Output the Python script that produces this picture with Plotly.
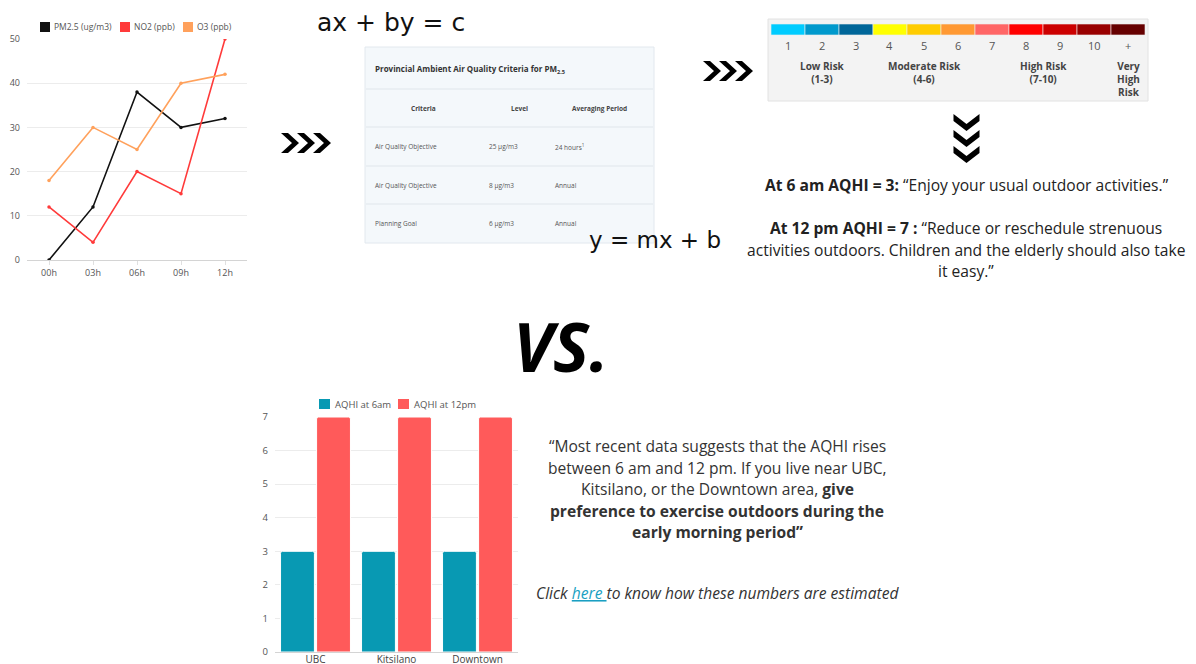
import plotly.graph_objects as go

W, H = 1196, 664

# ---- data -------------------------------------------------------------
hours = ["00h", "03h", "06h", "09h", "12h"]
pm25 = [0, 12, 38, 30, 32]
no2 = [12, 4, 20, 15, 50]
o3 = [18, 30, 25, 40, 42]

areas = ["UBC", "Kitsilano", "Downtown"]
aqhi_6am = [3, 3, 3]
aqhi_12pm = [7, 7, 7]

table_title = "Provincial Ambient Air Quality Criteria for PM<sub>2.5</sub>"
table_header = ["Criteria", "Level", "Averaging Period"]
table_criteria = ["Air Quality Objective", "Air Quality Objective", "Planning Goal"]
table_level = ["25 μg/m3", "8 μg/m3", "6 μg/m3"]
table_period = ["24 hours<sup>1</sup>", "Annual", "Annual"]

aqhi_levels = ["1", "2", "3", "4", "5", "6", "7", "8", "9", "10", "+"]
aqhi_colors = ["#00ccff", "#0099cc", "#006699", "#ffff00", "#ffcc00", "#ff9933",
               "#ff6666", "#ff0000", "#cc0000", "#990000", "#660000"]
risk_groups = [("Low Risk<br>(1-3)", 1, 3), ("Moderate Risk<br>(4-6)", 4, 6),
               ("High Risk<br>(7-10)", 7, 10), ("Very<br>High<br>Risk", 11, 11)]

FONT = "Open Sans"


def X(px):
    return px / W


def Y(py):
    return 1 - py / H


annotations = []
shapes = []


def text(px, py, s, size=12, color="#333", xanchor="center", family=FONT, **kw):
    annotations.append(dict(x=X(px), y=Y(py), xref="paper", yref="paper", text=s,
                            showarrow=False, xanchor=xanchor, yanchor="middle",
                            font=dict(size=size, color=color, family=family), **kw))


def rect(x0, y0, x1, y1, fill, line=None, lw=0):
    shapes.append(dict(type="rect", xref="paper", yref="paper",
                       x0=X(x0), x1=X(x1), y0=Y(y1), y1=Y(y0), fillcolor=fill,
                       line=dict(color=line or fill, width=lw), layer="below"))


def hline(x0, x1, py, color, width=1):
    shapes.append(dict(type="line", xref="paper", yref="paper",
                       x0=X(x0), x1=X(x1), y0=Y(py), y1=Y(py),
                       line=dict(color=color, width=width), layer="below"))


def chevron_right(x0, yc, w=18, h=20, t=7):
    pts = [(x0, yc - h / 2), (x0 + t, yc - h / 2), (x0 + w, yc), (x0 + t, yc + h / 2),
           (x0, yc + h / 2), (x0 + w - t, yc)]
    path = "M " + " L ".join(f"{X(a):.5f},{Y(b):.5f}" for a, b in pts) + " Z"
    shapes.append(dict(type="path", xref="paper", yref="paper", path=path,
                       fillcolor="#000", line=dict(width=0)))


def chevron_down(xc, y0, w=26, h=17, t=7):
    pts = [(xc - w / 2, y0), (xc, y0 + h - t), (xc + w / 2, y0), (xc + w / 2, y0 + t),
           (xc, y0 + h), (xc - w / 2, y0 + t)]
    path = "M " + " L ".join(f"{X(a):.5f},{Y(b):.5f}" for a, b in pts) + " Z"
    shapes.append(dict(type="path", xref="paper", yref="paper", path=path,
                       fillcolor="#000", line=dict(width=0)))


fig = go.Figure()

# ---- line chart: pollutant concentrations -----------------------------
line_series = [("PM2.5 (ug/m3)", pm25, "#111111"),
               ("NO2 (ppb)", no2, "#ff3a3a"),
               ("O3 (ppb)", o3, "#ffa15c")]
for name, vals, col in line_series:
    fig.add_trace(go.Scatter(x=hours, y=vals, name=name, mode="lines+markers",
                             line=dict(color=col, width=1.6),
                             marker=dict(color=col, size=3.5),
                             xaxis="x", yaxis="y", showlegend=False))

# legend for line chart
leg_x = [40, 120, 183]
for (name, _, col), lx in zip(line_series, leg_x):
    rect(lx, 22, lx + 10, 32, col)
    text(lx + 12, 27, name, size=8.5, color="#555", xanchor="left")

# ---- bar chart: AQHI by area ------------------------------------------
fig.add_trace(go.Bar(x=areas, y=aqhi_6am, name="AQHI at 6am", marker_color="#0899b3",
                     marker_line=dict(color="#ffffff", width=1), marker_cornerradius=2,
                     xaxis="x2", yaxis="y2", showlegend=False))
fig.add_trace(go.Bar(x=areas, y=aqhi_12pm, name="AQHI at 12pm", marker_color="#ff5a5a",
                     marker_line=dict(color="#ffffff", width=1), marker_cornerradius=2,
                     xaxis="x2", yaxis="y2", showlegend=False))
rect(319, 399, 330, 409, "#0899b3")
text(333, 404, "AQHI at 6am", size=9.5, color="#555", xanchor="left")
rect(398, 399, 409, 409, "#ff5a5a")
text(412, 404, "AQHI at 12pm", size=9.5, color="#555", xanchor="left")

# ---- handwritten equations & arrows -----------------------------------
text(391, 23, "ax + by = c", size=25, color="#111", family="DejaVu Sans")
text(655, 240, "y = mx + b", size=23, color="#111", family="DejaVu Sans")

for i in range(3):
    chevron_right(281 + i * 16, 143)
    chevron_right(703 + i * 16, 71)
    chevron_down(966.5, 114 + i * 16)

# ---- criteria table ---------------------------------------------------
rect(365, 47, 654, 243, "#f4f8fb", "#e2e8ee", 1)
for py in [89, 127, 166, 204]:
    hline(366, 653, py, "#e0e6eb")
text(373, 70, "<b>" + table_title + "</b>", size=8, color="#333", xanchor="left")
hdr_x = [423, 519, 599]
for hx, h in zip(hdr_x, table_header):
    text(hx, 108, "<b>" + h + "</b>", size=6.5, color="#444")
for i, (c, l, p) in enumerate(zip(table_criteria, table_level, table_period)):
    ry = 147 + i * 38.5
    text(373, ry, c, size=6.5, color="#555", xanchor="left")
    text(487, ry, l, size=6.5, color="#555", xanchor="left")
    text(553, ry, p, size=6.5, color="#555", xanchor="left")

# ---- AQHI colour scale ------------------------------------------------
rect(768, 19, 1148, 101, "#f3f3f3", "#e2e2e2", 1)
seg_w = (1145 - 771) / len(aqhi_colors)
for i, (lvl, col) in enumerate(zip(aqhi_levels, aqhi_colors)):
    x0 = 771 + i * seg_w
    shapes.append(dict(type="rect", xref="paper", yref="paper",
                       x0=X(x0), x1=X(x0 + seg_w), y0=Y(35), y1=Y(24),
                       fillcolor=col, line=dict(color="#eeeeee", width=0.6)))
    text(x0 + seg_w / 2, 46, lvl, size=11, color="#555")
for label, a, b in risk_groups:
    cx = 771 + ((a - 1) + b) / 2 * seg_w
    n = label.count("<br>")
    text(cx, 65 + n * 7, "<b>" + label + "</b>", size=10, color="#444")

# ---- explanatory text -------------------------------------------------
TS = 15.6
text(967, 185, "<b>At 6 am AQHI = 3:</b> “Enjoy your usual outdoor activities.”",
     size=TS, color="#222")
rhs = ["<b>At 12 pm AQHI = 7 :</b> “Reduce or reschedule strenuous",
       "activities outdoors. Children and the elderly should also take",
       "it easy.”"]
for i, s in enumerate(rhs):
    text(966, 228 + i * 21.5, s, size=TS, color="#222")

text(561, 345, "<b><i>VS.</i></b>", size=68, color="#000", family=FONT)

quote = ["“Most recent data suggests that the AQHI rises",
         "between 6 am and 12 pm. If you live near UBC,",
         "Kitsilano, or the Downtown area, <b>give</b>",
         "<b>preference to exercise outdoors during the</b>",
         "<b>early morning period”</b>"]
for i, s in enumerate(quote):
    text(717, 446 + i * 21.5, s, size=TS, color="#333")
text(717, 593, "<i>Click <span style='color:#1a9fc2;text-decoration:underline'>here </span>"
               "to know how these numbers are estimated</i>", size=TS, color="#333")

# ---- layout -----------------------------------------------------------
grid = "#ececec"
fig.update_layout(
    width=W, height=H, margin=dict(l=0, r=0, t=0, b=0, autoexpand=False),
    paper_bgcolor="#ffffff", plot_bgcolor="rgba(0,0,0,0)",
    showlegend=False, bargap=0.11, bargroupgap=0.06, barmode="group",
    font=dict(family=FONT, color="#555"),
    xaxis=dict(domain=[X(27), X(247)], type="category", range=[-0.5, 4.5],
               showgrid=False, showline=False, ticks="outside", ticklen=4,
               tickcolor="#e0e0e0", tickfont=dict(size=9, color="#555"),
               anchor="y", fixedrange=True),
    yaxis=dict(domain=[Y(260), Y(39)], range=[0, 50], dtick=10, gridcolor=grid,
               zeroline=True, zerolinecolor="#d4d4d4", zerolinewidth=1,
               tickfont=dict(size=9, color="#555"), anchor="x", ticklabelstandoff=6,
               fixedrange=True),
    xaxis2=dict(domain=[X(275), X(518)], type="category", showgrid=False,
                showline=False, tickfont=dict(size=10, color="#444"), anchor="y2",
                fixedrange=True),
    yaxis2=dict(domain=[Y(652), Y(417)], range=[0, 7], dtick=1, gridcolor=grid,
                zeroline=True, zerolinecolor="#d4d4d4", zerolinewidth=1,
                tickfont=dict(size=9.5, color="#555"), anchor="x2",
                ticklabelstandoff=6, fixedrange=True),
    annotations=annotations, shapes=shapes,
)

fig.write_html("out.html")
